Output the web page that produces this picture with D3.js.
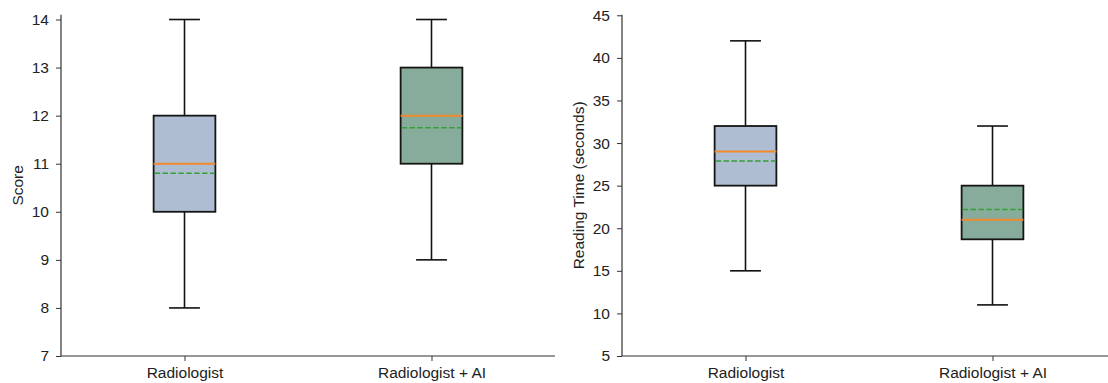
<!DOCTYPE html>
<html>
<head>
<meta charset="utf-8">
<script src="https://cdn.jsdelivr.net/npm/d3@7"></script>
<style>
  body { margin: 0; background: #fff; }
  text { font-family: "Liberation Sans", Arial, sans-serif; fill: #222; }
</style>
</head>
<body>
<svg id="chart" width="1108" height="383"></svg>
<script>
// groups shown on both panels
const categories = ['Radiologist', 'Radiologist + AI'];
const boxColors = ['#aebdd1', '#87ac9b'];

// score panel: [whiskerLow, q1, median, q3, whiskerHigh], mean
const scoreStats = [[8, 10, 11, 12, 14], [9, 11, 12, 13, 14]];
const scoreMeans = [10.8, 11.75];
const scoreTicks = [7, 8, 9, 10, 11, 12, 13, 14];

// reading time panel
const timeStats = [[15, 25, 29, 32, 42], [11, 18.7, 21, 25, 32]];
const timeMeans = [27.9, 22.2];
const timeTicks = [5, 10, 15, 20, 25, 30, 35, 40, 45];

const svg = d3.select('#chart');
const plotTop = 14.7, plotBottom = 356;

function panel(opts) {
  const g = svg.append('g');
  const x = d3.scaleLinear().domain([0.5, 2.5]).range([opts.left, opts.left + 494]);
  const y = d3.scaleLinear().domain(opts.domain).range([plotBottom, plotTop]);
  const boxW = x(1.25) - x(1);
  const capW = boxW / 2;

  // axes
  const yAxis = d3.axisLeft(y).tickValues(opts.ticks).tickSize(5).tickPadding(7);
  const ya = g.append('g').attr('transform', `translate(${opts.left},0)`).call(yAxis);
  const xAxis = d3.axisBottom(x).tickValues([1, 2]).tickFormat((d, i) => categories[i]).tickSize(5).tickPadding(6);
  const xa = g.append('g').attr('transform', `translate(0,${plotBottom})`).call(xAxis);
  [ya, xa].forEach(a => {
    a.selectAll('text').style('font-size', '15.5px').attr('fill', '#222');
    a.selectAll('line').attr('stroke', '#333').attr('stroke-width', 1);
    a.select('.domain').attr('stroke', '#333').attr('stroke-width', 1.2);
  });
  ya.select('.domain').attr('d', `M0,${plotTop}V${plotBottom}`);
  xa.select('.domain').attr('d', `M${opts.left},0H${opts.left + 494}`);

  g.append('text')
    .attr('transform', `translate(${opts.labelX},${(plotTop + plotBottom) / 2}) rotate(-90)`)
    .attr('text-anchor', 'middle')
    .attr('dy', '0.35em')
    .style('font-size', '15.5px')
    .text(opts.label);

  opts.stats.forEach((s, i) => {
    const cx = x(i + 1);
    const bg = g.append('g');
    // whiskers
    bg.append('line').attr('x1', cx).attr('x2', cx).attr('y1', y(s[0])).attr('y2', y(s[1]))
      .attr('stroke', '#111').attr('stroke-width', 1.6);
    bg.append('line').attr('x1', cx).attr('x2', cx).attr('y1', y(s[3])).attr('y2', y(s[4]))
      .attr('stroke', '#111').attr('stroke-width', 1.6);
    [s[0], s[4]].forEach(v => {
      bg.append('line').attr('x1', cx - capW / 2).attr('x2', cx + capW / 2)
        .attr('y1', y(v)).attr('y2', y(v)).attr('stroke', '#111').attr('stroke-width', 1.6);
    });
    // box
    bg.append('rect').attr('x', cx - boxW / 2).attr('width', boxW)
      .attr('y', y(s[3])).attr('height', y(s[1]) - y(s[3]))
      .attr('fill', boxColors[i]).attr('stroke', '#151515').attr('stroke-width', 1.8);
    // median
    bg.append('line').attr('x1', cx - boxW / 2).attr('x2', cx + boxW / 2)
      .attr('y1', y(s[2])).attr('y2', y(s[2])).attr('stroke', '#f08a2e').attr('stroke-width', 2);
    // mean
    bg.append('line').attr('x1', cx - boxW / 2 + 1).attr('x2', cx + boxW / 2 - 1)
      .attr('y1', y(opts.means[i])).attr('y2', y(opts.means[i]))
      .attr('stroke', '#36a036').attr('stroke-width', 1.5).attr('stroke-dasharray', '5.5,2.4');
  });
}

panel({left: 61, domain: [7, 14.1], ticks: scoreTicks, stats: scoreStats, means: scoreMeans, label: 'Score', labelX: 18});
panel({left: 622, domain: [5, 45.07], ticks: timeTicks, stats: timeStats, means: timeMeans, label: 'Reading Time (seconds)', labelX: 579});
</script>
</body>
</html>
